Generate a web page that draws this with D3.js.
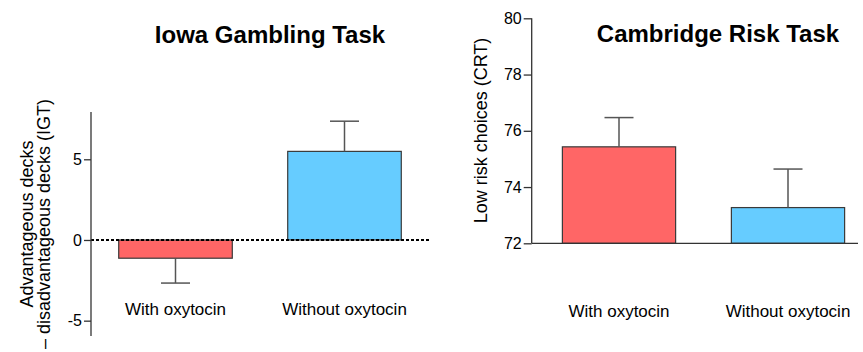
<!DOCTYPE html>
<html>
<head>
<meta charset="utf-8">
<script src="https://cdn.jsdelivr.net/npm/d3@7"></script>
<style>
  html, body { margin: 0; padding: 0; background: #fff; }
  svg { display: block; font-family: "Liberation Sans", Arial, Helvetica, sans-serif; }
</style>
</head>
<body>
<svg id="chart" width="863" height="352"></svg>
<script>
// ---- data ----
const categories = ["With oxytocin", "Without oxytocin"];
const colors = ["#ff6666", "#66ccff"];
const igtMeans = [-1.13, 5.49];
const igtErrors = [1.54, 1.87];   // error extends away from zero
const crtMeans = [75.43, 73.27];
const crtErrors = [1.04, 1.37];
const igtTicks = [-5, 0, 5];
const crtTicks = [72, 74, 76, 78, 80];
const titles = ["Iowa Gambling Task", "Cambridge Risk Task"];
const igtYLabel = ["Advantageous decks", "\u2013 disadvantageous decks (IGT)"];
const crtYLabel = "Low risk choices (CRT)";

const svg = d3.select("#chart");
const FS = 17, TFS = 16, LFS = 18;
const fmt = (d) => String(d);

// ================= Left panel: IGT =================
const yL = d3.scaleLinear().domain([-5.95, 7.93]).range([336, 112]);
const xL = d3.scaleBand().domain(categories).range([91, 429]).padding(0);
const bwL = xL.bandwidth() * 0.672;

const gL = svg.append("g");
gL.selectAll("rect.bar").data(categories).join("rect")
  .attr("x", (d) => xL(d) + (xL.bandwidth() - bwL) / 2)
  .attr("y", (d, i) => Math.min(yL(igtMeans[i]), yL(0)))
  .attr("width", bwL)
  .attr("height", (d, i) => Math.abs(yL(igtMeans[i]) - yL(0)))
  .attr("fill", (d, i) => colors[i])
  .attr("stroke", "#3a3a3a").attr("stroke-width", 1.2);
const capW = 29;
categories.forEach((c, i) => {
  const cx = xL(c) + xL.bandwidth() / 2;
  const m = igtMeans[i];
  const e = m >= 0 ? m + igtErrors[i] : m - igtErrors[i];
  gL.append("line").attr("x1", cx).attr("x2", cx).attr("y1", yL(m)).attr("y2", yL(e))
    .attr("stroke", "#555").attr("stroke-width", 1.5);
  gL.append("line").attr("x1", cx - capW / 2).attr("x2", cx + capW / 2).attr("y1", yL(e)).attr("y2", yL(e))
    .attr("stroke", "#555").attr("stroke-width", 1.5);
});
gL.append("line").attr("x1", 91).attr("x2", 429).attr("y1", yL(0)).attr("y2", yL(0))
  .attr("stroke", "#000").attr("stroke-width", 2).attr("stroke-dasharray", "3,2");
const axL = gL.append("g").attr("transform", "translate(91,0)")
  .call(d3.axisLeft(yL).tickValues(igtTicks).tickSize(7).tickPadding(2).tickFormat(fmt));
axL.selectAll("path,line").attr("stroke", "#333").attr("stroke-width", 1.3);
axL.select("path").attr("d", `M0,${yL.range()[0]}V${yL.range()[1]}`);
axL.selectAll("text").attr("font-size", TFS).attr("fill", "#000").attr("font-family", "Liberation Sans, Arial, sans-serif");
gL.selectAll("text.cat").data(categories).join("text")
  .attr("x", (d) => xL(d) + xL.bandwidth() / 2).attr("y", 315)
  .attr("text-anchor", "middle").attr("font-size", FS).text((d) => d);
gL.append("text").attr("x", 270).attr("y", 43).attr("text-anchor", "middle")
  .attr("font-size", 24).attr("font-weight", "bold").text(titles[0]);
igtYLabel.forEach((t, i) => {
  gL.append("text").attr("transform", `translate(${33 + i * 17},224) rotate(-90)`)
    .attr("text-anchor", "middle").attr("font-size", LFS).text(t);
});

// ================= Right panel: CRT =================
const yR = d3.scaleLinear().domain([72, 80]).range([243.3, 18.3]);
const xR = d3.scaleBand().domain(categories).range([534.5, 872.5]).padding(0);
const bwR = xR.bandwidth() * 0.67;
const gR = svg.append("g");
gR.selectAll("rect.bar").data(categories).join("rect")
  .attr("x", (d) => xR(d) + (xR.bandwidth() - bwR) / 2)
  .attr("y", (d, i) => yR(crtMeans[i]))
  .attr("width", bwR)
  .attr("height", (d, i) => yR(72) - yR(crtMeans[i]))
  .attr("fill", (d, i) => colors[i])
  .attr("stroke", "#3a3a3a").attr("stroke-width", 1.2);
categories.forEach((c, i) => {
  const cx = xR(c) + xR.bandwidth() / 2;
  const m = crtMeans[i], e = m + crtErrors[i];
  gR.append("line").attr("x1", cx).attr("x2", cx).attr("y1", yR(m)).attr("y2", yR(e))
    .attr("stroke", "#555").attr("stroke-width", 1.5);
  gR.append("line").attr("x1", cx - capW / 2).attr("x2", cx + capW / 2).attr("y1", yR(e)).attr("y2", yR(e))
    .attr("stroke", "#555").attr("stroke-width", 1.5);
});
gR.append("line").attr("x1", 531.7).attr("x2", 858).attr("y1", yR(72)).attr("y2", yR(72))
  .attr("stroke", "#333").attr("stroke-width", 1.3);
const axR = gR.append("g").attr("transform", "translate(531.7,0)")
  .call(d3.axisLeft(yR).tickValues(crtTicks).tickSize(8).tickPadding(2).tickFormat(fmt));
axR.selectAll("path,line").attr("stroke", "#333").attr("stroke-width", 1.3);
axR.select("path").attr("d", `M0,${yR.range()[0]}V${yR.range()[1]}`);
axR.selectAll("text").attr("font-size", TFS).attr("fill", "#000").attr("font-family", "Liberation Sans, Arial, sans-serif");
gR.selectAll("text.cat").data(categories).join("text")
  .attr("x", (d) => xR(d) + xR.bandwidth() / 2).attr("y", 317)
  .attr("text-anchor", "middle").attr("font-size", FS).text((d) => d);
gR.append("text").attr("x", 718).attr("y", 42).attr("text-anchor", "middle")
  .attr("font-size", 24).attr("font-weight", "bold").text(titles[1]);
gR.append("text").attr("transform", "translate(487,130.5) rotate(-90)")
  .attr("text-anchor", "middle").attr("font-size", LFS).text(crtYLabel);
</script>
</body>
</html>
